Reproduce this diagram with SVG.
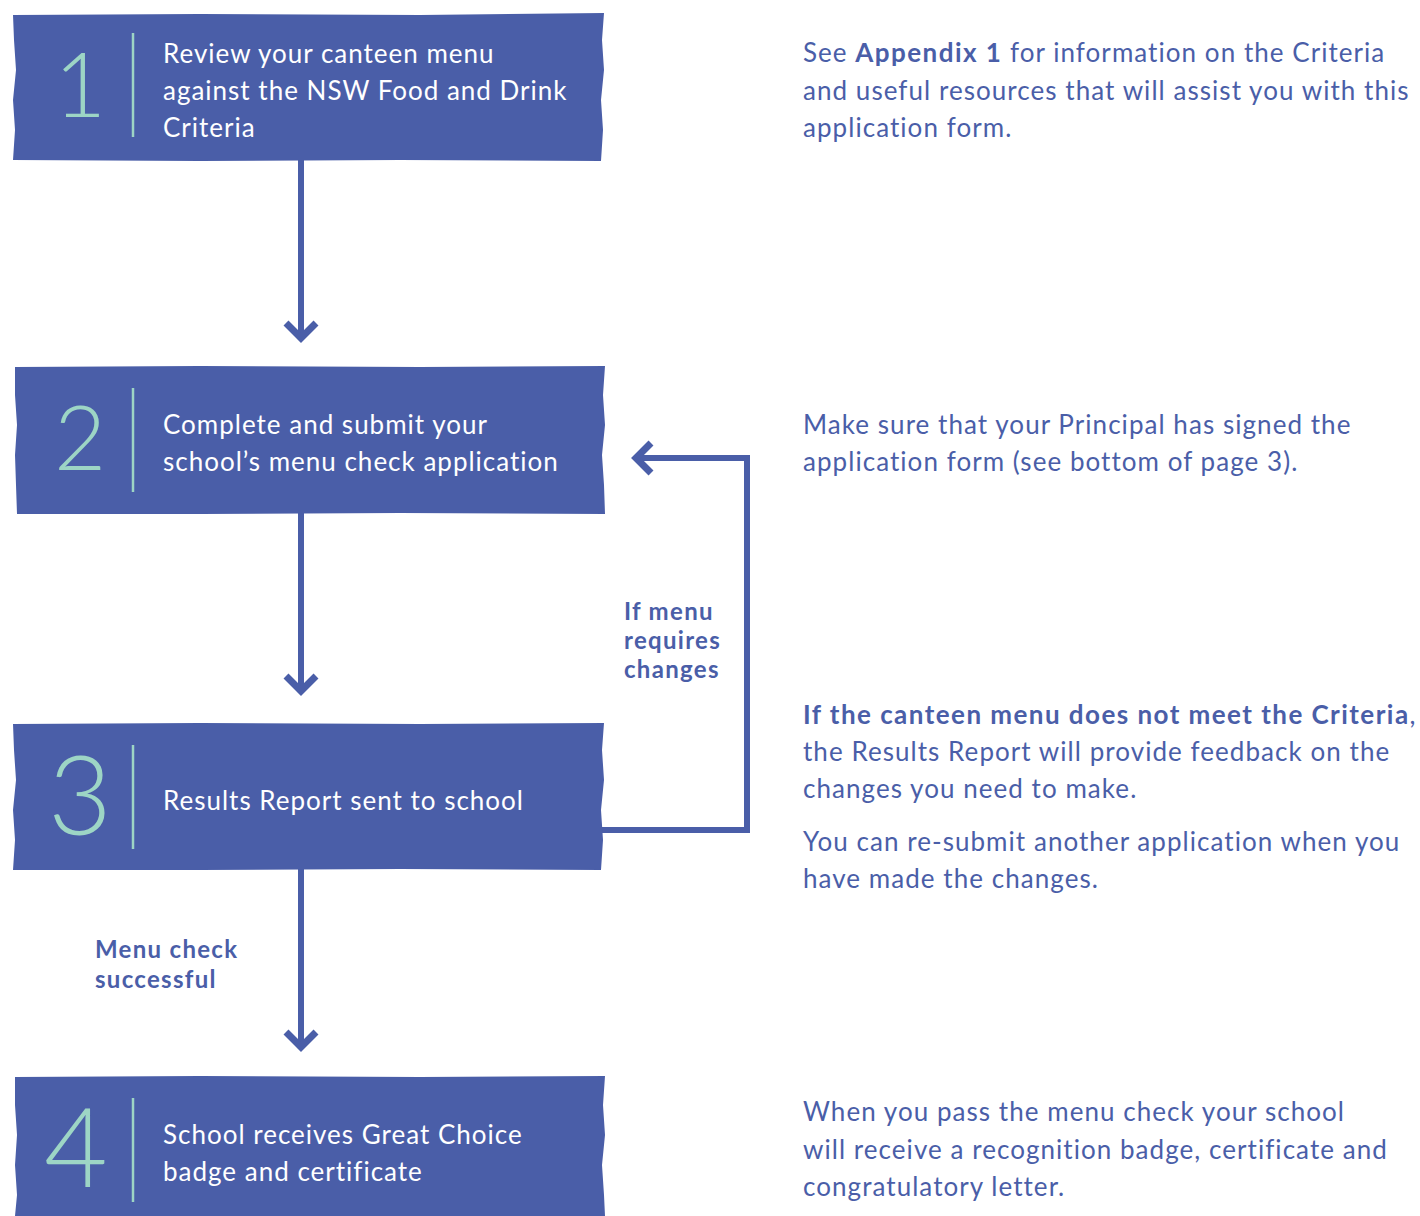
<svg xmlns="http://www.w3.org/2000/svg" width="1420" height="1216" viewBox="0 0 1420 1216">
<style>
.box{fill:#4a5ea8}
.sep{stroke:#9dd5c5;stroke-width:2.5}
.num{fill:#9dd5c5;font-family:Lato,"Open Sans",sans-serif;font-weight:300}
.bt{fill:#ffffff;font-family:Lato,"Open Sans",sans-serif;font-size:26px;letter-spacing:1px}
.rt{fill:#4a5ea8;font-family:Lato,"Open Sans",sans-serif;font-size:26px;letter-spacing:1.05px}
.rb{font-weight:700;letter-spacing:1.45px}
.lb{fill:#4a5ea8;font-family:Lato,"Open Sans",sans-serif;font-size:24px;font-weight:700;letter-spacing:1.3px}
.ln{fill:none;stroke:#4a5ea8;stroke-width:6}
.hd{fill:none;stroke:#4a5ea8;stroke-width:7;stroke-linejoin:miter;stroke-miterlimit:10}
</style>
<rect width="1420" height="1216" fill="#ffffff"/>
<g id="connectors">
<line class="ln" x1="301" y1="160" x2="301" y2="336"/>
<polyline class="hd" points="286,323 301,338 316,323"/>
<line class="ln" x1="301" y1="513" x2="301" y2="689"/>
<polyline class="hd" points="286,676 301,691 316,676"/>
<line class="ln" x1="301" y1="869" x2="301" y2="1045"/>
<polyline class="hd" points="286,1032 301,1047 316,1032"/>
<polyline class="ln" points="602,830 747,830 747,458 638,458"/>
<polyline class="hd" points="651,443 636,458 651,473"/>
<text class="lb" x="624" y="620">If menu</text>
<text class="lb" x="624" y="649">requires</text>
<text class="lb" x="624" y="678">changes</text>
<text class="lb" x="95" y="958">Menu check</text>
<text class="lb" x="95" y="988">successful</text>
</g>
<g id="step1">
<path class="box" d="M13,15 L200,14 L420,15 L604,13 L602,40 L604,70 L601,100 L603,130 L601,161 L400,160 L200,161 L13,160 L15,130 L13,100 L16,70 L14,40 Z"/>
<text class="num" x="80" y="117" font-size="90" text-anchor="middle">1</text>
<line class="sep" x1="133" y1="33" x2="133" y2="137"/>
<text class="bt" x="163" y="63">Review your canteen menu</text>
<text class="bt" x="163" y="100">against the NSW Food and Drink</text>
<text class="bt" x="163" y="137">Criteria</text>
</g>
<g id="step2">
<path class="box" d="M15,367 L200,366 L420,367 L605,366 L603,395 L605,425 L602,455 L604,485 L605,514 L400,513 L200,514 L17,514 L16,485 L15,455 L17,425 L15,395 Z"/>
<text class="num" x="80" y="470" font-size="90" text-anchor="middle">2</text>
<line class="sep" x1="133" y1="388" x2="133" y2="492"/>
<text class="bt" x="163" y="434">Complete and submit your</text>
<text class="bt" x="163" y="471">school’s menu check application</text>
</g>
<g id="step3">
<path class="box" d="M13,724 L200,723 L420,724 L604,723 L602,750 L604,780 L601,810 L603,840 L601,870 L400,869 L200,870 L13,870 L15,840 L13,810 L16,780 L14,750 Z"/>
<text class="num" x="80" y="835" font-size="110" text-anchor="middle">3</text>
<line class="sep" x1="133" y1="745" x2="133" y2="849"/>
<text class="bt" x="163" y="810">Results Report sent to school</text>
</g>
<g id="step4">
<path class="box" d="M15,1077 L200,1076 L420,1077 L605,1076 L603,1105 L605,1135 L602,1165 L604,1195 L605,1216 L15,1216 L17,1195 L15,1165 L17,1135 L15,1105 Z"/>
<text class="num" x="76" y="1187" font-size="110" text-anchor="middle">4</text>
<line class="sep" x1="133" y1="1098" x2="133" y2="1202"/>
<text class="bt" x="163" y="1144">School receives Great Choice</text>
<text class="bt" x="163" y="1181">badge and certificate</text>
</g>
<g id="notes">
<text class="rt" x="803" y="62">See <tspan class="rb">Appendix 1</tspan> for information on the Criteria</text>
<text class="rt" x="803" y="100">and useful resources that will assist you with this</text>
<text class="rt" x="803" y="137">application form.</text>
<text class="rt" x="803" y="434">Make sure that your Principal has signed the</text>
<text class="rt" x="803" y="471">application form (see bottom of page 3).</text>
<text class="rt" x="803" y="724"><tspan class="rb">If the canteen menu does not meet the Criteria</tspan>,</text>
<text class="rt" x="803" y="761">the Results Report will provide feedback on the</text>
<text class="rt" x="803" y="798">changes you need to make.</text>
<text class="rt" x="803" y="851">You can re-submit another application when you</text>
<text class="rt" x="803" y="888">have made the changes.</text>
<text class="rt" x="803" y="1121">When you pass the menu check your school</text>
<text class="rt" x="803" y="1159">will receive a recognition badge, certificate and</text>
<text class="rt" x="803" y="1196">congratulatory letter.</text>
</g>
</svg>
